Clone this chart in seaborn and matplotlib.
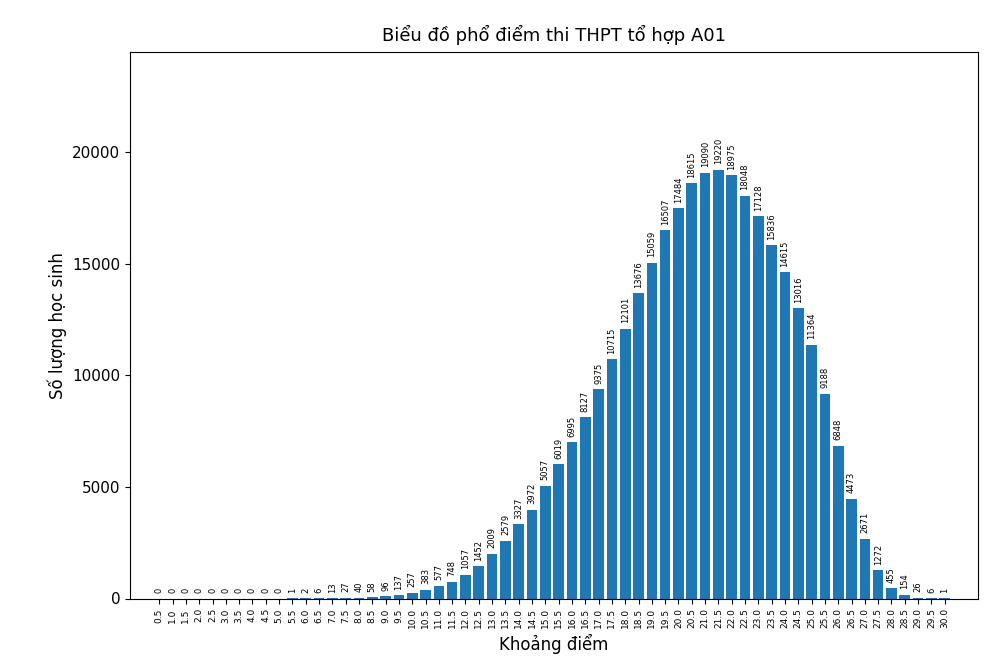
import matplotlib
matplotlib.use("Agg")
import matplotlib.pyplot as plt
import seaborn as sns
import pandas as pd

scores = [f"{0.5*i:.1f}" for i in range(1, 61)]
counts = [0,0,0,0,0,0,0,0,0,0,1,2,6,13,27,40,58,96,137,257,383,577,748,1057,1452,
          2009,2579,3327,3972,5057,6019,6995,8127,9375,10715,12101,13676,15059,16507,
          17484,18615,19090,19220,18975,18048,17128,15836,14615,13016,11364,9188,6848,
          4473,2671,1272,455,154,26,6,1]

df = pd.DataFrame({"score": scores, "count": counts})
fig = plt.figure(figsize=(10, 6.65), dpi=100)
ax = fig.add_axes([0.13, 0.10, 0.848, 0.822])
sns.barplot(data=df, x="score", y="count", color="#1f77b4", saturation=1, width=0.8, ax=ax)
for i, c in enumerate(counts):
    ax.text(i, c + 250, str(c), rotation=90, ha="center", va="bottom", fontsize=6)
ax.set_ylim(0, 24500)
ax.set_xlim(-2.2, 61.5)
ax.set_yticks([0, 5000, 10000, 15000, 20000])
ax.tick_params(axis="y", labelsize=11)
ax.tick_params(axis="x", labelrotation=90, labelsize=6.5)
ax.set_xlabel("Khoảng điểm", fontsize=12)
ax.set_ylabel("Số lượng học sinh", fontsize=12)
ax.set_title("Biểu đồ phổ điểm thi THPT tổ hợp A01", fontsize=13, pad=8)
fig.savefig("out.png", dpi=100)
